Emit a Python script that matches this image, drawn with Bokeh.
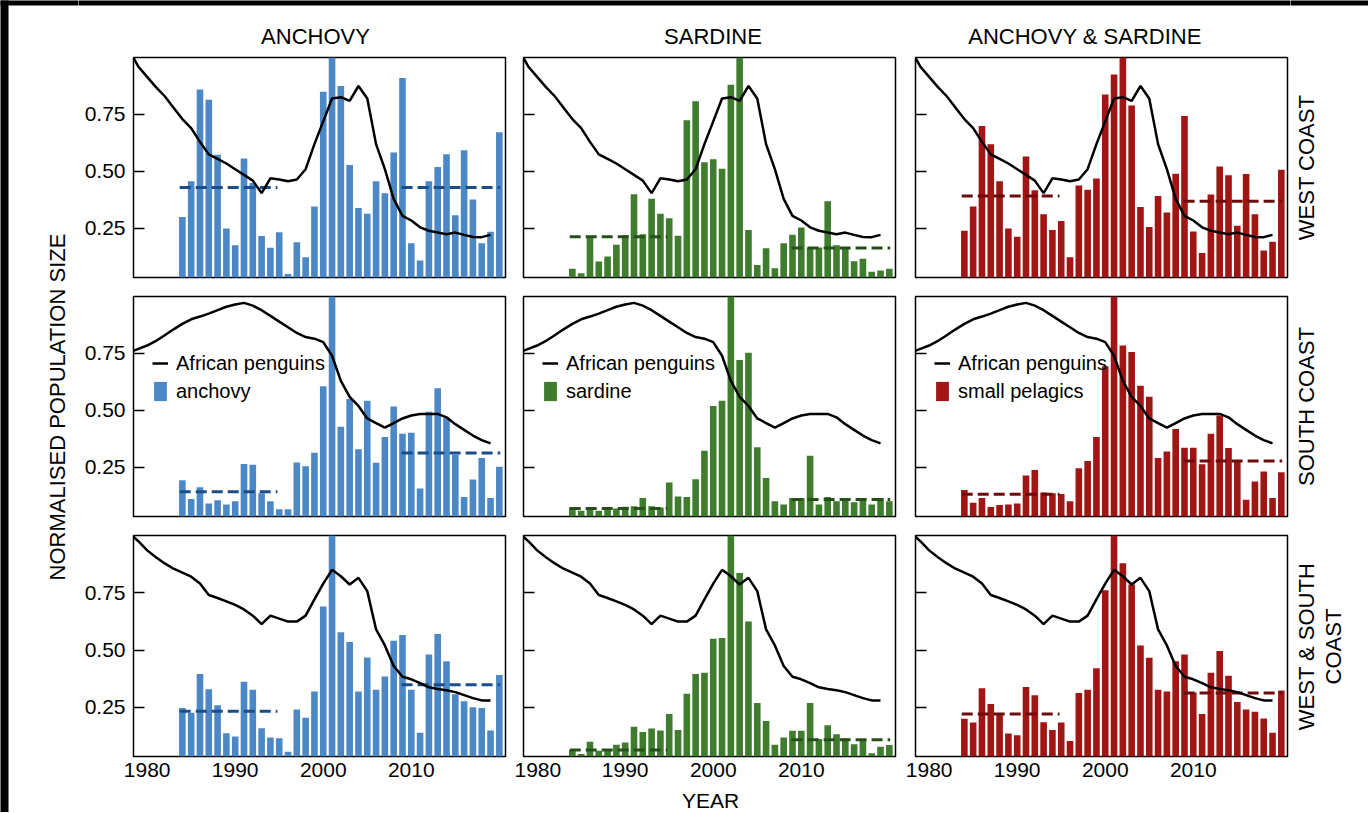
from math import pi
from bokeh.plotting import figure
from bokeh.layouts import row, column
from bokeh.models import Range1d, FixedTicker, NumeralTickFormatter, Legend, LegendItem
from bokeh.core.properties import value
from bokeh.embed import file_html
from bokeh.resources import INLINE

FONT = "Liberation Sans"

# ---------------- data ----------------
bar_years = list(range(1984, 2021))
penguin_years = list(range(1978, 2020))

column_titles = ["ANCHOVY", "SARDINE", "ANCHOVY & SARDINE"]
region_lines = [["WEST COAST"], ["SOUTH COAST"], ["WEST & SOUTH", "COAST"]]
legend_names = ["anchovy", "sardine", "small pelagics"]
x_ticks = [1980, 1990, 2000, 2010]
y_ticks = [0.25, 0.5, 0.75]

anchovy_west = [0.30, 0.457, 0.86, 0.815, 0.573, 0.25, 0.177, 0.557, 0.45, 0.217, 0.165, 0.233, 0.05,
                0.19, 0.124, 0.346, 0.85, 1.0, 0.875, 0.528, 0.34, 0.315, 0.457, 0.405, 0.583, 0.91,
                0.185, 0.11, 0.457, 0.52, 0.576, 0.308, 0.593, 0.377, 0.185, 0.236, 0.672]
sardine_west = [0.073, 0.054, 0.218, 0.105, 0.127, 0.179, 0.22, 0.40, 0.225, 0.38, 0.315, 0.295, 0.218,
                0.725, 0.808, 0.541, 0.554, 0.512, 0.88, 1.0, 0.243, 0.09, 0.163, 0.076, 0.185, 0.222,
                0.254, 0.167, 0.167, 0.37, 0.177, 0.16, 0.106, 0.117, 0.06, 0.066, 0.073]
pelagics_west = [0.24, 0.346, 0.70, 0.62, 0.457, 0.25, 0.214, 0.566, 0.418, 0.312, 0.243, 0.283, 0.124,
                 0.438, 0.42, 0.469, 0.838, 0.925, 1.0, 0.79, 0.344, 0.257, 0.392, 0.32, 0.49, 0.743,
                 0.237, 0.143, 0.399, 0.522, 0.483, 0.262, 0.489, 0.312, 0.153, 0.192, 0.508]

anchovy_south = [0.194, 0.112, 0.163, 0.092, 0.106, 0.088, 0.102, 0.265, 0.262, 0.137, 0.102, 0.067, 0.067,
                 0.272, 0.255, 0.315, 0.606, 1.0, 0.429, 0.55, 0.33, 0.543, 0.271, 0.384, 0.518, 0.398,
                 0.402, 0.158, 0.494, 0.598, 0.468, 0.306, 0.12, 0.197, 0.292, 0.116, 0.253]
sardine_south = [0.074, 0.06, 0.064, 0.06, 0.066, 0.07, 0.078, 0.08, 0.116, 0.08, 0.075, 0.184, 0.123,
                 0.12, 0.198, 0.323, 0.52, 0.543, 1.0, 0.722, 0.753, 0.339, 0.204, 0.102, 0.088, 0.116,
                 0.116, 0.302, 0.088, 0.12, 0.102, 0.116, 0.098, 0.116, 0.088, 0.116, 0.102]
pelagics_south = [0.151, 0.095, 0.116, 0.077, 0.085, 0.088, 0.092, 0.215, 0.239, 0.14, 0.137, 0.134, 0.102,
                  0.247, 0.278, 0.384, 0.694, 1.0, 0.785, 0.757, 0.609, 0.56, 0.292, 0.32, 0.419, 0.337,
                  0.337, 0.264, 0.398, 0.478, 0.335, 0.282, 0.109, 0.189, 0.232, 0.116, 0.229]

anchovy_both = [0.247, 0.226, 0.395, 0.329, 0.259, 0.137, 0.122, 0.361, 0.326, 0.158, 0.118, 0.115, 0.056,
                0.24, 0.204, 0.319, 0.69, 1.0, 0.578, 0.535, 0.319, 0.467, 0.326, 0.384, 0.54, 0.566,
                0.326, 0.139, 0.48, 0.57, 0.451, 0.307, 0.276, 0.25, 0.247, 0.149, 0.391]
sardine_both = [0.063, 0.046, 0.099, 0.06, 0.068, 0.086, 0.096, 0.165, 0.142, 0.157, 0.149, 0.221, 0.151,
                0.309, 0.395, 0.401, 0.549, 0.552, 1.0, 0.836, 0.624, 0.269, 0.19, 0.086, 0.118, 0.147,
                0.147, 0.269, 0.111, 0.171, 0.132, 0.115, 0.089, 0.111, 0.049, 0.078, 0.085]
pelagics_both = [0.20, 0.183, 0.333, 0.264, 0.221, 0.135, 0.128, 0.338, 0.302, 0.185, 0.151, 0.183, 0.103,
                 0.312, 0.326, 0.42, 0.761, 1.0, 0.879, 0.786, 0.52, 0.466, 0.326, 0.319, 0.451, 0.48,
                 0.315, 0.221, 0.401, 0.496, 0.388, 0.273, 0.24, 0.23, 0.201, 0.139, 0.323]

penguins_west = [1.03, 0.96, 0.915, 0.87, 0.83, 0.78, 0.73, 0.69, 0.63, 0.575,
                 0.555, 0.535, 0.51, 0.485, 0.46, 0.405, 0.47, 0.465, 0.457, 0.465,
                 0.51, 0.62, 0.72, 0.82, 0.826, 0.81, 0.875, 0.82, 0.62, 0.51,
                 0.38, 0.305, 0.285, 0.255, 0.24, 0.232, 0.225, 0.232, 0.222, 0.213,
                 0.212, 0.222]
penguins_south = [0.755, 0.77, 0.785, 0.805, 0.83, 0.856, 0.88, 0.90, 0.912, 0.925,
                  0.94, 0.955, 0.965, 0.972, 0.96, 0.94, 0.915, 0.89, 0.865, 0.84,
                  0.822, 0.815, 0.80, 0.74, 0.63, 0.56, 0.52, 0.465, 0.445, 0.425,
                  0.445, 0.465, 0.478, 0.485, 0.485, 0.485, 0.47, 0.44, 0.415, 0.39,
                  0.37, 0.356]
penguins_both = [1.01, 0.975, 0.935, 0.905, 0.878, 0.855, 0.838, 0.82, 0.79, 0.74,
                 0.727, 0.712, 0.697, 0.677, 0.65, 0.613, 0.65, 0.637, 0.624, 0.624,
                 0.65, 0.721, 0.79, 0.85, 0.822, 0.786, 0.815, 0.757, 0.59, 0.52,
                 0.43, 0.383, 0.372, 0.355, 0.337, 0.33, 0.324, 0.316, 0.303, 0.29,
                 0.28, 0.279]

# mean levels of the two periods (dashed lines)
mean_period_start = [1983.7, 2008.9]
mean_period_end = [1994.8, 2020.1]
anchovy_west_means = [0.43, 0.43]
sardine_west_means = [0.214, 0.164]
pelagics_west_means = [0.392, 0.37]
anchovy_south_means = [0.144, 0.313]
sardine_south_means = [0.07, 0.11]
pelagics_south_means = [0.133, 0.278]
anchovy_both_means = [0.233, 0.348]
sardine_both_means = [0.063, 0.108]
pelagics_both_means = [0.221, 0.312]

bars = [[anchovy_west, sardine_west, pelagics_west],
        [anchovy_south, sardine_south, pelagics_south],
        [anchovy_both, sardine_both, pelagics_both]]
means = [[anchovy_west_means, sardine_west_means, pelagics_west_means],
         [anchovy_south_means, sardine_south_means, pelagics_south_means],
         [anchovy_both_means, sardine_both_means, pelagics_both_means]]
penguins = [penguins_west, penguins_south, penguins_both]

# ---------------- styling / layout ----------------
BAR_COLORS = ["#4c88c6", "#3f7c2d", "#a21515"]
DASH_COLORS = ["#1b4d8a", "#26501a", "#6c0c0c"]

FRAME_W = 372
FRAME_H = [220, 220, 221]
COL_BORDERS = [(55, 9), (9, 10), (10, 3)]
ROW_BORDERS = [(1, 10), (9, 10), (9, 31)]
LEFT_W, RIGHT_W, TOP_H, BOTTOM_H = 78, 78, 56, 25
X0, X1 = 1978.45, 2020.7
Y0, Y1 = 0.035, 1.0
EDGE_LEFT, EDGE_TOP = 8, 5   # dark screenshot edge seen in the reference


def make_panel(r, c):
    lb, rb = COL_BORDERS[c]
    tb, bb = ROW_BORDERS[r]
    p = figure(width=lb + FRAME_W + rb, height=tb + FRAME_H[r] + bb,
               x_range=Range1d(X0, X1), y_range=Range1d(Y0, Y1),
               x_axis_location="below" if r == 2 else None,
               output_backend="svg", toolbar_location=None, title=None,
               min_border_left=lb, min_border_right=rb,
               min_border_top=tb, min_border_bottom=bb)
    p.grid.visible = False
    p.outline_line_color = "black"
    p.outline_line_width = 1.5
    p.background_fill_color = "white"
    p.border_fill_color = "white"

    ya = p.yaxis[0]
    ya.ticker = FixedTicker(ticks=y_ticks)
    ya.formatter = NumeralTickFormatter(format="0.00")
    ya.axis_line_color = None
    ya.major_tick_in = 11
    ya.major_tick_out = 0
    ya.minor_tick_in = 0
    ya.minor_tick_out = 0
    ya.major_tick_line_color = "black"
    ya.major_tick_line_width = 1.5
    ya.major_label_text_font = FONT
    if c == 0:
        ya.major_label_text_color = "black"
        ya.major_label_text_font_size = "21px"
        ya.major_label_standoff = 8
    else:
        ya.major_label_text_color = None
        ya.major_label_text_font_size = "0px"
        ya.major_label_standoff = 0

    if r == 2:
        xa = p.xaxis[0]
        xa.ticker = FixedTicker(ticks=x_ticks)
        xa.axis_line_color = None
        xa.major_tick_in = 0
        xa.major_tick_out = 0
        xa.minor_tick_in = 0
        xa.minor_tick_out = 0
        xa.major_label_text_font = FONT
        xa.major_label_text_font_size = "21px"
        xa.major_label_text_color = "black"
        xa.major_label_standoff = 6

    bar_r = p.vbar(x=bar_years, top=bars[r][c], bottom=0, width=0.75,
                   fill_color=BAR_COLORS[c], line_color=None)
    p.segment(x0=mean_period_start, x1=mean_period_end, y0=means[r][c], y1=means[r][c],
              line_color=DASH_COLORS[c], line_width=3, line_dash="11 5")
    line_r = p.line(penguin_years, penguins[r], line_color="black", line_width=2.5)

    if r == 1:
        legend = Legend(items=[LegendItem(label="African penguins", renderers=[line_r]),
                               LegendItem(label=legend_names[c], renderers=[bar_r])],
                        location=(19, 113), orientation="vertical", padding=5, spacing=4,
                        margin=0, glyph_width=16, glyph_height=24, label_height=24,
                        label_standoff=8, label_text_font=FONT, label_text_font_size="20px",
                        label_text_color="black", border_line_color=None,
                        background_fill_alpha=0)
        p.add_layout(legend)
    return p


def strip(w, h, dark_left=0, dark_top=0):
    s = figure(width=w, height=h, x_range=Range1d(0, w), y_range=Range1d(0, h),
               x_axis_location=None, y_axis_location=None, min_border=0,
               output_backend="svg", toolbar_location=None, title=None)
    s.grid.visible = False
    s.outline_line_color = None
    s.background_fill_color = "white"
    s.border_fill_color = "white"
    if dark_left:
        s.quad(left=[-2], right=[dark_left], bottom=[-2], top=[h + 2],
               fill_color="black", line_color=None)
    if dark_top:
        s.quad(left=[-2], right=[w + 2], bottom=[h - dark_top], top=[h + 2],
               fill_color="black", line_color=None)
    return s


TOTAL_H = TOP_H + sum(tb + h + bb for (tb, bb), h in zip(ROW_BORDERS, FRAME_H)) + BOTTOM_H
CENTER_W = sum(lb + FRAME_W + rb for lb, rb in COL_BORDERS)

text_kw = dict(text_font=value(FONT), text_color="black", text_align="center", text_baseline="middle")

# top strip: column titles (page coordinates: x from left, y from top)
top = strip(CENTER_W, TOP_H, dark_top=EDGE_TOP)
title_x = [315, 712.5, 1084.5]
top.text(x=[tx - LEFT_W for tx in title_x], y=[TOP_H - 36] * 3, text=column_titles,
         text_font_size="22px", **text_kw)

# bottom strip: x axis title
bottom = strip(CENTER_W, BOTTOM_H)
bottom.text(x=[710 - LEFT_W], y=[TOTAL_H - 800], text=["YEAR"], text_font_size="21px", **text_kw)

# left strip: y axis title
left = strip(LEFT_W, TOTAL_H, dark_left=EDGE_LEFT, dark_top=EDGE_TOP)
left.text(x=[57], y=[TOTAL_H - 406.5], text=["NORMALISED POPULATION SIZE"], angle=pi / 2,
          text_font_size="22px", **text_kw)

# right strip: region labels
right = strip(RIGHT_W, TOTAL_H, dark_top=EDGE_TOP)
right_x0 = LEFT_W + CENTER_W
row_centres = [167, 406, 646]
rx, ry, rt = [], [], []
for lines, yc in zip(region_lines, row_centres):
    for i, t in enumerate(lines):
        rx.append(1305.5 + i * 27.5 - right_x0)
        ry.append(TOTAL_H - yc)
        rt.append(t)
right.text(x=rx, y=ry, text=rt, angle=pi / 2, text_font_size="22px", **text_kw)

panels = [[make_panel(r, c) for c in range(3)] for r in range(3)]
center = column([top] + [row(panels[r]) for r in range(3)] + [bottom])
layout = row([left, center, right])

open("out.html", "w").write(file_html(layout, INLINE))
